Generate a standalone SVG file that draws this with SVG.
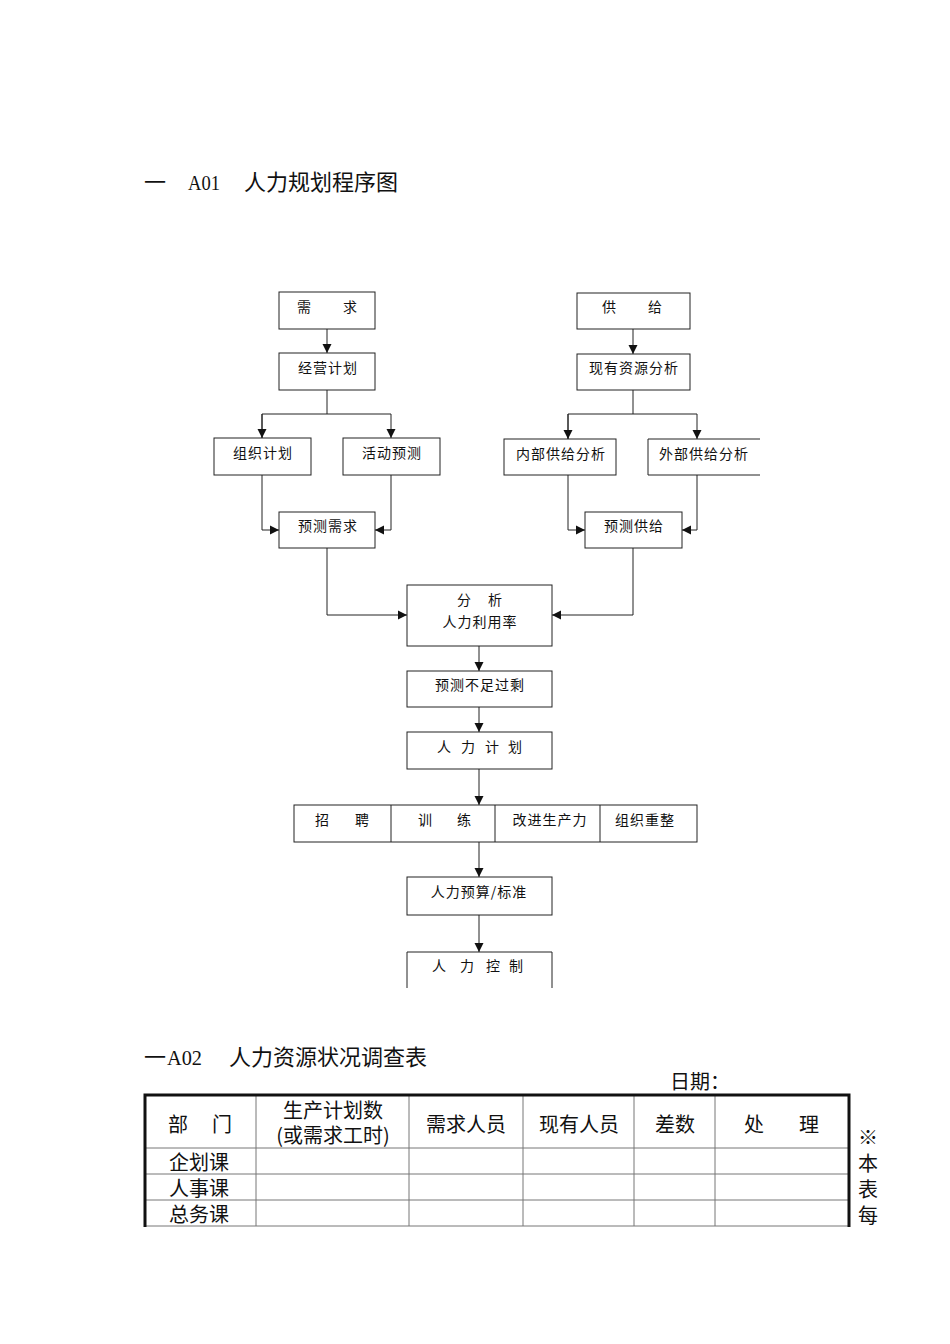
<svg xmlns="http://www.w3.org/2000/svg" width="950" height="1344" viewBox="0 0 950 1344">
<style>
.bx{fill:#fff;stroke:#222;stroke-width:1}
.ln{fill:none;stroke:#222;stroke-width:1}
.t{font-family:"Noto Sans CJK SC",sans-serif;font-size:14px;fill:#111}
.c{text-anchor:middle;letter-spacing:1px}
.h{font-family:"Noto Sans CJK SC",sans-serif;font-size:22px;fill:#111}
.m{font-family:"Liberation Serif",serif;font-size:21px;fill:#111}
.tb{font-family:"Noto Sans CJK SC",sans-serif;font-size:20px;fill:#111}
.tm{text-anchor:middle}
.th{fill:none;stroke:#111;stroke-width:3}
.tn{fill:none;stroke:#777;stroke-width:1}
</style>
<defs>
<marker id="ar" markerWidth="10" markerHeight="10" refX="9" refY="5" orient="auto" markerUnits="userSpaceOnUse">
<path d="M0,0.5 L9,5 L0,9.5 Z" fill="#111"/>
</marker>
</defs>
<rect width="950" height="1344" fill="#fff"/>
<g id="title1">
<text class="h" x="144" y="190">一</text>
<text class="m" x="188" y="190" textLength="32" lengthAdjust="spacingAndGlyphs">A01</text>
<text class="h" x="244" y="190">人力规划程序图</text>
</g>
<g id="connectors">
<line class="ln" x1="327" y1="329" x2="327" y2="353" marker-end="url(#ar)"/>
<polyline class="ln" points="327,390 327,414"/>
<polyline class="ln" points="262,438 262,414 391,414 391,438" marker-end="url(#ar)"/>
<line class="ln" x1="262" y1="414" x2="262" y2="438" marker-end="url(#ar)"/>
<polyline class="ln" points="262,475 262,530 279,530" marker-end="url(#ar)"/>
<polyline class="ln" points="391,475 391,530 375,530" marker-end="url(#ar)"/>
<polyline class="ln" points="327,548 327,615 407,615" marker-end="url(#ar)"/>
<line class="ln" x1="633" y1="329" x2="633" y2="354" marker-end="url(#ar)" stroke="#888"/>
<polyline class="ln" points="633,390 633,414" stroke="#999"/>
<polyline class="ln" points="568,439 568,414 697,414 697,439" marker-end="url(#ar)"/>
<line class="ln" x1="568" y1="414" x2="568" y2="439" marker-end="url(#ar)"/>
<polyline class="ln" points="568,475 568,530 585,530" marker-end="url(#ar)"/>
<polyline class="ln" points="697,475 697,530 682,530" marker-end="url(#ar)"/>
<polyline class="ln" points="633,548 633,615 552,615" marker-end="url(#ar)" stroke="#999"/>
<line class="ln" x1="479" y1="646" x2="479" y2="671" marker-end="url(#ar)"/>
<line class="ln" x1="479" y1="707" x2="479" y2="732" marker-end="url(#ar)"/>
<line class="ln" x1="479" y1="769" x2="479" y2="805" marker-end="url(#ar)"/>
<line class="ln" x1="479" y1="842" x2="479" y2="877" marker-end="url(#ar)"/>
<line class="ln" x1="479" y1="915" x2="479" y2="952" marker-end="url(#ar)"/>
</g>
<g id="n-xuqiu"><rect class="bx" x="279" y="292" width="96" height="37"/><text class="t" x="297" y="312">需</text><text class="t" x="343" y="312">求</text></g>
<g id="n-jingying"><rect class="bx" x="279" y="353" width="96" height="37"/><text class="t c" x="328" y="373">经营计划</text></g>
<g id="n-zuzhi"><rect class="bx" x="214" y="438" width="97" height="37"/><text class="t c" x="263" y="458">组织计划</text></g>
<g id="n-huodong"><rect class="bx" x="343" y="438" width="97" height="37" stroke="#888"/><text class="t c" x="392" y="458">活动预测</text></g>
<g id="n-yucexuqiu"><rect class="bx" x="279" y="512" width="96" height="36"/><text class="t c" x="328" y="531">预测需求</text></g>
<g id="n-gongji"><rect class="bx" x="577" y="293" width="113" height="36"/><text class="t" x="602" y="312">供</text><text class="t" x="648" y="312">给</text></g>
<g id="n-xianyou"><rect class="bx" x="577" y="354" width="113" height="36"/><text class="t c" x="634" y="373">现有资源分析</text></g>
<g id="n-neibu"><rect class="bx" x="504" y="439" width="112" height="36" stroke="#888"/><text class="t c" x="561" y="459">内部供给分析</text></g>
<g id="n-waibu"><polyline class="ln" points="760,439 648,439 648,475 760,475" stroke="#666"/><text class="t c" x="704" y="459">外部供给分析</text></g>
<g id="n-yucegongji"><rect class="bx" x="585" y="512" width="97" height="36"/><text class="t c" x="634" y="531">预测供给</text></g>
<g id="n-fenxi"><rect class="bx" x="407" y="585" width="145" height="61"/><text class="t" x="457" y="605">分</text><text class="t" x="488" y="605">析</text><text class="t c" x="480" y="627">人力利用率</text></g>
<g id="n-yuce"><rect class="bx" x="407" y="671" width="145" height="36"/><text class="t c" x="480" y="690">预测不足过剩</text></g>
<g id="n-renlijihua"><rect class="bx" x="407" y="732" width="145" height="37"/><text class="t" x="437 461 485 508" y="752">人力计划</text></g>
<g id="n-actions">
<rect class="bx" x="294" y="805" width="403" height="37"/>
<line class="ln" x1="391" y1="805" x2="391" y2="842"/>
<line class="ln" x1="495" y1="805" x2="495" y2="842"/>
<line class="ln" x1="600" y1="805" x2="600" y2="842"/>
<text class="t" x="315" y="825">招</text><text class="t" x="355" y="825">聘</text>
<text class="t" x="418" y="825">训</text><text class="t" x="457" y="825">练</text>
<text class="t c" x="550" y="825">改进生产力</text>
<text class="t c" x="645" y="825">组织重整</text>
</g>
<g id="n-yusuan"><rect class="bx" x="407" y="877" width="145" height="38"/><text class="t c" x="479" y="897">人力预算/标准</text></g>
<g id="n-kongzhi"><polyline class="ln" points="407,988 407,952 552,952 552,988" stroke="#666"/><text class="t" x="432 460 486 509" y="971">人力控制</text></g>
<g id="title2">
<text class="h" x="144" y="1065">一</text>
<text class="m" x="167" y="1065" textLength="35" lengthAdjust="spacingAndGlyphs">A02</text>
<text class="h" x="229" y="1065">人力资源状况调查表</text>
<text class="tb" x="670" y="1089">日期：</text>
</g>
<g id="table">
<line class="tn" x1="145" y1="1148" x2="849" y2="1148"/>
<line class="tn" x1="145" y1="1174" x2="849" y2="1174"/>
<line class="tn" x1="145" y1="1200" x2="849" y2="1200"/>
<line class="tn" x1="145" y1="1226" x2="849" y2="1226" stroke="#333" stroke-width="1.5"/>
<line class="tn" x1="256" y1="1095" x2="256" y2="1226"/>
<line class="tn" x1="409" y1="1095" x2="409" y2="1226"/>
<line class="tn" x1="523" y1="1095" x2="523" y2="1226"/>
<line class="tn" x1="634" y1="1095" x2="634" y2="1226"/>
<line class="tn" x1="715" y1="1095" x2="715" y2="1226"/>
<polyline class="th" points="145,1227 145,1095 849,1095 849,1227"/>
<text class="tb" x="168" y="1132">部</text><text class="tb" x="212" y="1132">门</text>
<text class="tb tm" font-size="19"><tspan x="333" y="1118">生产计划数</tspan><tspan x="333" y="1143">(或需求工时)</tspan></text>
<text class="tb tm" x="466" y="1132">需求人员</text>
<text class="tb tm" x="579" y="1132">现有人员</text>
<text class="tb tm" x="675" y="1132">差数</text>
<text class="tb" x="744" y="1132">处</text><text class="tb" x="799" y="1132">理</text>
<text class="tb" font-size="19"><tspan x="169" y="1170">企划课</tspan><tspan x="169" y="1196">人事课</tspan><tspan x="169" y="1222">总务课</tspan></text>
<text class="tb" x="868" y="1127" writing-mode="vertical-rl" style="writing-mode:vertical-rl;letter-spacing:6px">※本表每</text>
</g>
</svg>
